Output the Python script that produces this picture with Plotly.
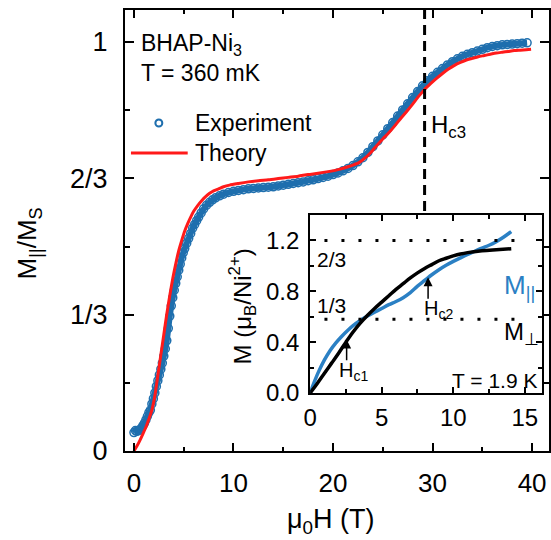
import plotly.graph_objects as go

# ---------------- data ----------------
exp_field = [0.00, 0.15, 0.30, 0.45, 0.60, 0.75, 0.90, 1.05, 1.20, 1.35, 1.50, 1.65, 1.80, 1.95,
             2.10, 2.25, 2.40, 2.55, 2.70, 2.85, 3.00, 3.15, 3.30, 3.45, 3.60, 3.75, 3.90, 4.05,
             4.20, 4.35, 4.50, 4.65, 4.80, 4.95, 5.10, 5.30, 5.50, 5.70, 5.90, 6.10, 6.30, 6.50,
             6.75, 7.00, 7.30, 7.60, 7.90, 8.20, 8.60, 9.00, 9.50, 10.0, 10.5, 11.0, 11.5, 12.0,
             12.5, 13.0, 13.5, 14.0, 14.5, 15.0, 15.5, 16.0, 16.5, 17.0, 17.5, 18.0, 18.5, 19.0,
             19.5, 20.0, 20.5, 21.0, 21.5, 22.0, 22.5, 23.0, 23.5, 24.0, 24.5, 25.0, 25.5, 26.0,
             26.5, 27.0, 27.5, 28.0, 28.5, 29.0, 29.5, 30.0, 30.5, 31.0, 31.5, 32.0, 32.5, 33.0,
             33.5, 34.0, 34.5, 35.0, 35.5, 36.0, 36.5, 37.0, 37.5, 38.0, 38.5, 39.0, 39.5]
exp_mag = [0.045, 0.050, 0.048, 0.050, 0.052, 0.056, 0.062, 0.068, 0.076, 0.085, 0.094, 0.100, 0.115, 0.128,
           0.142, 0.158, 0.172, 0.186, 0.200, 0.215, 0.232, 0.250, 0.270, 0.300, 0.330, 0.355, 0.375, 0.393,
           0.410, 0.426, 0.442, 0.457, 0.472, 0.485, 0.495, 0.508, 0.520, 0.532, 0.545, 0.554, 0.563, 0.572,
           0.582, 0.592, 0.601, 0.608, 0.614, 0.619, 0.624, 0.628, 0.632, 0.635, 0.637, 0.639, 0.641, 0.642,
           0.643, 0.644, 0.645, 0.646, 0.648, 0.650, 0.652, 0.654, 0.656, 0.658, 0.661, 0.663, 0.666, 0.669,
           0.672, 0.676, 0.680, 0.685, 0.691, 0.698, 0.707, 0.717, 0.730, 0.744, 0.758, 0.773, 0.788, 0.803,
           0.819, 0.834, 0.849, 0.864, 0.879, 0.893, 0.905, 0.916, 0.926, 0.935, 0.944, 0.952, 0.959, 0.965,
           0.970, 0.974, 0.978, 0.982, 0.986, 0.989, 0.991, 0.993, 0.994, 0.995, 0.996, 0.997, 0.998]

theory_field = [0.0, 0.3, 0.6, 0.9, 1.2, 1.5, 1.8, 2.1, 2.4, 2.7, 3.0, 3.3, 3.6, 3.9, 4.2, 4.5, 4.8,
                5.1, 5.4, 5.7, 6.0, 6.4, 6.8, 7.2, 7.6, 8.0, 8.5, 9.0, 9.6, 10.5, 11.5, 12.5, 13.5,
                14.5, 15.5, 16.5, 17.5, 18.5, 19.5, 20.5, 21.5, 22.0, 22.6, 23.2, 23.8, 24.4, 25.0,
                25.6, 26.2, 26.8, 27.4, 28.0, 28.6, 29.2, 29.8, 30.4, 31.0, 31.6, 32.2, 32.8, 33.4,
                34.0, 34.6, 35.2, 35.8, 36.4, 37.0, 37.6, 38.2, 38.8, 39.4, 39.9]
theory_mag = [0.000, 0.012, 0.026, 0.042, 0.058, 0.078, 0.100, 0.135, 0.185, 0.235, 0.285, 0.335, 0.380,
              0.422, 0.458, 0.490, 0.515, 0.538, 0.556, 0.572, 0.586, 0.600, 0.612, 0.622, 0.630, 0.636,
              0.641, 0.646, 0.650, 0.654, 0.658, 0.661, 0.663, 0.666, 0.669, 0.672, 0.676, 0.679, 0.683,
              0.688, 0.695, 0.699, 0.705, 0.716, 0.730, 0.747, 0.763, 0.778, 0.795, 0.813, 0.830, 0.848,
              0.867, 0.884, 0.898, 0.911, 0.923, 0.934, 0.943, 0.950, 0.956, 0.960, 0.964, 0.967, 0.970,
              0.973, 0.975, 0.977, 0.979, 0.980, 0.981, 0.982]

inset_par_field = [0.0, 0.3, 0.6, 1.0, 1.4, 1.8, 2.2, 2.6, 3.0, 3.5, 4.0, 4.5, 5.0, 5.5, 6.0, 6.5,
                   7.0, 7.5, 8.0, 8.5, 9.0, 9.5, 10.0, 10.5, 11.0, 11.5, 12.0, 12.5, 13.0, 13.5, 14.05]
inset_par_mag = [0.0, 0.09, 0.17, 0.26, 0.335, 0.395, 0.445, 0.49, 0.53, 0.57, 0.605, 0.635, 0.665, 0.695,
                 0.72, 0.75, 0.79, 0.84, 0.885, 0.93, 0.97, 1.005, 1.035, 1.063, 1.09, 1.115, 1.14, 1.162,
                 1.19, 1.225, 1.27]

inset_perp_field = [0.0, 0.5, 1.0, 1.5, 2.0, 2.5, 3.0, 3.5, 4.0, 4.5, 5.0, 5.5, 6.0, 6.5, 7.0, 7.5,
                    8.0, 8.5, 9.0, 9.5, 10.0, 10.5, 11.0, 12.0, 13.0, 14.05]
inset_perp_mag = [0.0, 0.075, 0.155, 0.235, 0.315, 0.40, 0.48, 0.55, 0.61, 0.665, 0.715, 0.765, 0.815,
                  0.86, 0.905, 0.945, 0.98, 1.01, 1.04, 1.06, 1.078, 1.093, 1.104, 1.118, 1.127, 1.135]

main_ytick_vals = [0, 1/3, 2/3, 1]
main_ytick_text = ["0", "1/3", "2/3", "1"]
inset_ytick_vals = [0.0, 0.4, 0.8, 1.2]
inset_ytick_text = ["0.0", "0.4", "0.8", "1.2"]

hc3_field = 29.2
hc1_field = 2.55
hc2_field = 8.24
plateau_levels = [1.2, 0.58]

# ---------------- styles ----------------
FONT = "Arial, Liberation Sans, sans-serif"
BLUE = "#1f6fae"
BLUE2 = "#2b80c4"
RED = "#ff1a1a"
W, H = 551, 540
L, R, T, B = 125, 0, 10, 89
PW, PH = W - L - R, H - T - B


def px(xp):
    return (xp - L) / PW


def py(yp):
    return (H - B - yp) / PH


fig = go.Figure()

fig.add_trace(go.Scatter(
    x=exp_field, y=exp_mag, mode="lines+markers", name="Experiment",
    line=dict(color=BLUE, width=6, shape="spline", smoothing=0.6),
    marker=dict(symbol="circle-open", size=8, color=BLUE, line=dict(width=1.5, color=BLUE)),
    xaxis="x", yaxis="y", showlegend=False))
fig.add_trace(go.Scatter(
    x=theory_field, y=theory_mag, mode="lines", name="Theory",
    line=dict(color=RED, width=3, shape="spline", smoothing=0.6),
    xaxis="x", yaxis="y", showlegend=False))

fig.add_trace(go.Scatter(
    x=inset_par_field, y=inset_par_mag, mode="lines",
    line=dict(color=BLUE2, width=3.5, shape="spline", smoothing=1.0),
    xaxis="x2", yaxis="y2", showlegend=False))
fig.add_trace(go.Scatter(
    x=inset_perp_field, y=inset_perp_mag, mode="lines",
    line=dict(color="black", width=3.5, shape="spline", smoothing=1.0),
    xaxis="x2", yaxis="y2", showlegend=False))

axis_common = dict(showline=True, linecolor="black", linewidth=2, mirror="ticks", ticks="inside",
                   tickcolor="black", tickwidth=2, showgrid=False, zeroline=False)

fig.update_layout(
    width=W, height=H, margin=dict(l=L, r=R, t=T, b=B),
    paper_bgcolor="white", plot_bgcolor="white",
    xaxis=dict(**axis_common, range=[-0.9, 41.7], tickvals=[0, 10, 20, 30, 40], ticklen=8,
               ticklabelstandoff=8, tickfont=dict(family=FONT, size=26, color="black"),
               minor=dict(tickvals=[5, 15, 25, 35], ticklen=4, tickwidth=2, ticks="inside",
                          tickcolor="black", showgrid=False)),
    yaxis=dict(**axis_common, range=[0, 441 / 409], tickvals=main_ytick_vals, ticktext=main_ytick_text,
               ticklen=9, ticklabelstandoff=10, tickfont=dict(family=FONT, size=27, color="black"),
               minor=dict(tickvals=[1/6, 1/2, 5/6], ticklen=5, tickwidth=2, ticks="inside",
                          tickcolor="black", showgrid=False)),
    xaxis2=dict(**axis_common, ticklen=6, tickfont=dict(family=FONT, size=24, color="black"),
                domain=[px(311), px(544)], anchor="y2", range=[0, 16.2],
                tickvals=[0, 5, 10, 15], ticklabelstandoff=2,
                minor=dict(tickvals=[2.5, 7.5, 12.5], ticklen=4, tickwidth=2, ticks="inside",
                           tickcolor="black", showgrid=False)),
    yaxis2=dict(**axis_common, ticklen=6, tickfont=dict(family=FONT, size=24, color="black"),
                domain=[py(393), py(215)], anchor="x2", range=[0, 1.4],
                tickvals=inset_ytick_vals, ticktext=inset_ytick_text, ticklabelstandoff=4,
                minor=dict(tickvals=[0.2, 0.6, 1.0], ticklen=4, tickwidth=2, ticks="inside",
                           tickcolor="black", showgrid=False)),
)

shapes = []
# Hc3 dashed line
shapes.append(dict(type="line", xref="x", yref="paper", x0=hc3_field, x1=hc3_field,
                   y0=py(211), y1=1, line=dict(color="black", width=3, dash="10px,6px")))
# inset dotted plateau lines
for lev in plateau_levels:
    shapes.append(dict(type="line", xref="x2", yref="y2", x0=1.0, x1=15.0, y0=lev, y1=lev,
                       line=dict(color="black", width=3, dash="3px,14px")))
# manual legend symbols
shapes.append(dict(type="line", xref="paper", yref="paper", x0=px(131), x1=px(188),
                   y0=py(153), y1=py(153), line=dict(color=RED, width=3)))
shapes.append(dict(type="circle", xref="paper", yref="paper", x0=px(155.5), x1=px(162.5),
                   y0=py(126.5), y1=py(119.5), line=dict(color=BLUE, width=2)))
fig.update_layout(shapes=shapes)

ann = []


def text(s, x, y, size, xanchor="left", color="black", xref="paper", yref="paper", angle=0):
    ann.append(dict(text=s, x=x, y=y, xref=xref, yref=yref, showarrow=False, xanchor=xanchor,
                    yanchor="middle", textangle=angle,
                    font=dict(family=FONT, size=size, color=color)))


text("BHAP-Ni<sub>3</sub>", px(139), py(44), 23)
text("T = 360 mK", px(139), py(73), 23)
text("Experiment", px(193), py(123), 23)
text("Theory", px(193), py(153), 23)
text("H<sub>c3</sub>", px(430), py(126), 24)
text("M<sub>||</sub>/M<sub>S</sub>", px(28), py(243), 26, xanchor="center", angle=-90)
text("μ<sub>0</sub>H (T)", px(332), py(521), 27, xanchor="center")
text("M (μ<sub>B</sub>/Ni<sup>2+</sup>)", px(243), py(306), 24, xanchor="center", angle=-90)

# inset texts
text("2/3", 0.35, 1.05, 21, xref="x2", yref="y2")
text("1/3", 0.35, 0.69, 21, xref="x2", yref="y2")
text("M<sub>||</sub>", 13.4, 0.84, 26, color=BLUE2, xref="x2", yref="y2")
text("M<sub>⊥</sub>", 13.4, 0.47, 24, xref="x2", yref="y2")
text("T = 1.9 K", 16.0, 0.10, 21, xanchor="right", xref="x2", yref="y2")
text("H<sub>c1</sub>", 1.9, 0.17, 20, xref="x2", yref="y2")
text("H<sub>c2</sub>", 7.8, 0.66, 20, xref="x2", yref="y2")

# arrows
for xf, ylo, yhi in [(hc1_field, 0.245, 0.42), (hc2_field, 0.73, 0.91)]:
    ann.append(dict(x=xf, y=yhi, ax=xf, ay=ylo, xref="x2", yref="y2", axref="x2", ayref="y2",
                    showarrow=True, arrowhead=2, arrowsize=1.2, arrowwidth=1.5, arrowcolor="black",
                    text=""))

fig.update_layout(annotations=ann)

fig.write_html("out.html")
